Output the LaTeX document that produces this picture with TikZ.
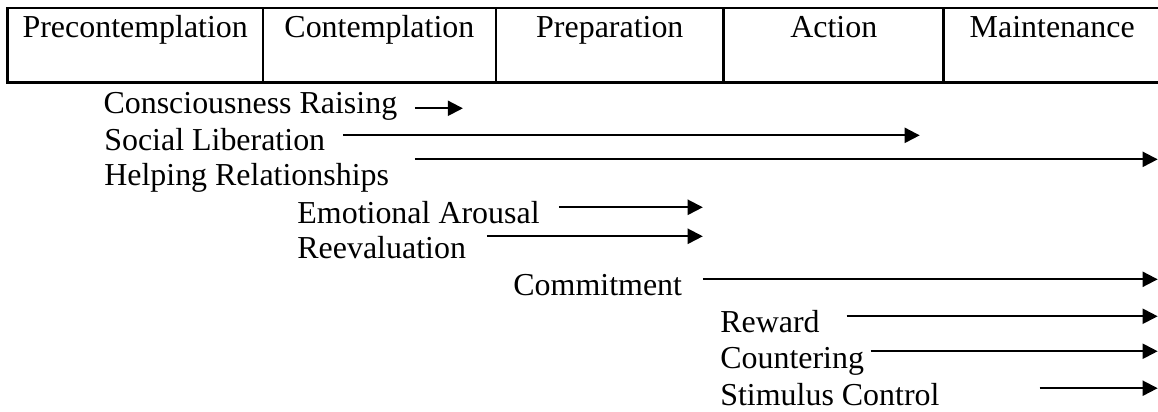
\documentclass[tikz,border=0pt]{standalone}
\usepackage{fontspec}
\setmainfont{Liberation Serif}
\usepackage{tikz}
\usetikzlibrary{arrows.meta,positioning}

\begin{document}
\begin{tikzpicture}[
  cell/.style={draw,line width=1pt,inner sep=0pt,outer sep=0pt,anchor=north west,
               text height=0.389cm,text depth=0.594cm},
  lbl/.style={anchor=base west,inner sep=0pt},
  arr/.style={-{Triangle[length=0.2cm,width=0.2cm]},line width=0.75pt},
  font=\fontsize{12}{14.4}\selectfont,
]
\useasboundingbox (0,0) rectangle (15.29,5.43);
% stages
\node[cell,minimum width=3.373cm] (pre) at (0.099,5.326) {Precontemplation};
\node[cell,minimum width=3.075cm,right=0pt of pre] (con) {Contemplation};
\node[cell,minimum width=3.010cm,right=0pt of con] (prep) {Preparation};
\node[cell,minimum width=2.904cm,right=0pt of prep] (act) {Action};
\node[cell,minimum width=2.864cm,right=0pt of act] (main) {Maintenance};
% processes
\node[lbl] (cr) at (1.36,3.934) {Consciousness Raising};
\node[lbl] (sl) at (1.37,3.445) {Social Liberation};
\node[lbl] (hr) at (1.37,2.983) {Helping Relationships};
\node[lbl] (ea) at (3.92,2.482) {Emotional Arousal};
\node[lbl] (re) at (3.92,2.020) {Reevaluation};
\node[lbl] (com) at (6.772,1.531) {Commitment};
\node[lbl] (rew) at (9.504,1.043) {Reward};
\node[lbl] (cou) at (9.504,0.568) {Countering};
\node[lbl] (sc) at (9.504,0.079) {Stimulus Control};
% arrow ends
\coordinate (cr-a) at (5.478,4.000);  \coordinate (cr-b) at (6.112,4.000);
\coordinate (sl-a) at (4.528,3.643);  \coordinate (sl-b) at (12.144,3.643);
\coordinate (hr-a) at (5.478,3.326);  \coordinate (hr-b) at (15.286,3.326);
\coordinate (ea-a) at (7.379,2.693);  \coordinate (ea-b) at (9.280,2.693);
\coordinate (re-a) at (6.428,2.310);  \coordinate (re-b) at (9.280,2.310);
\coordinate (com-a) at (9.280,1.742); \coordinate (com-b) at (15.286,1.742);
\coordinate (rew-a) at (11.180,1.254); \coordinate (rew-b) at (15.286,1.254);
\coordinate (cou-a) at (11.497,0.792); \coordinate (cou-b) at (15.286,0.792);
\coordinate (sc-a) at (13.728,0.304); \coordinate (sc-b) at (15.286,0.304);
\draw[arr] (cr-a) -- (cr-b);
\draw[arr] (sl-a) -- (sl-b);
\draw[arr] (hr-a) -- (hr-b);
\draw[arr] (ea-a) -- (ea-b);
\draw[arr] (re-a) -- (re-b);
\draw[arr] (com-a) -- (com-b);
\draw[arr] (rew-a) -- (rew-b);
\draw[arr] (cou-a) -- (cou-b);
\draw[arr] (sc-a) -- (sc-b);
\end{tikzpicture}
\end{document}
